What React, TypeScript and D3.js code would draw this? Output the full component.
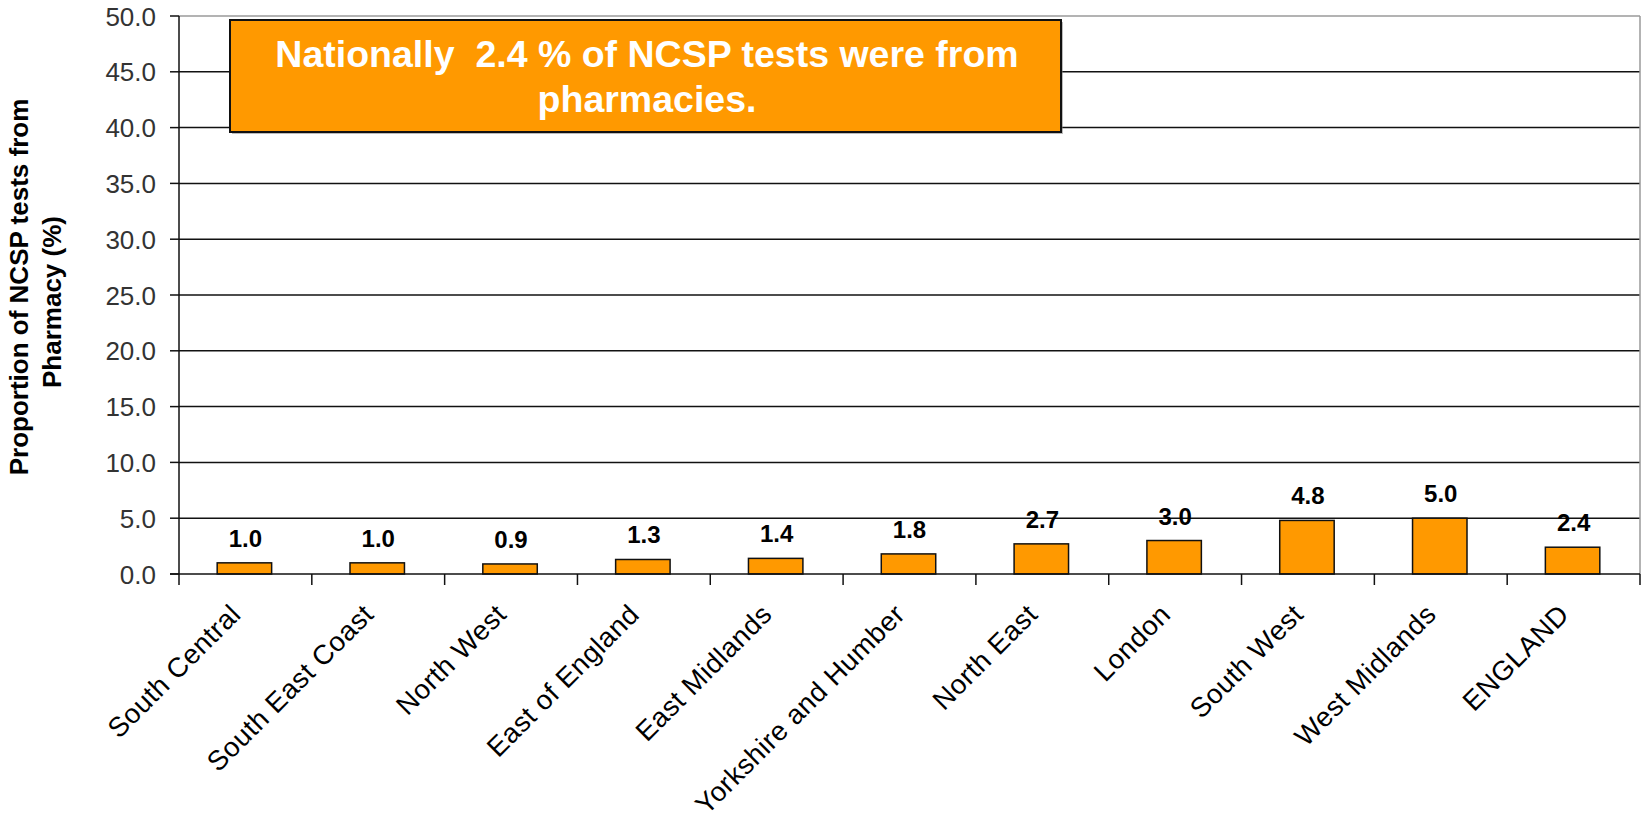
import React from "react";
import * as d3 from "d3";

const categories = [
  "South Central",
  "South East Coast",
  "North West",
  "East of England",
  "East Midlands",
  "Yorkshire and Humber",
  "North East",
  "London",
  "South West",
  "West Midlands",
  "ENGLAND",
];
const values = [1.0, 1.0, 0.9, 1.3, 1.4, 1.8, 2.7, 3.0, 4.8, 5.0, 2.4];
const yTicks = [0, 5, 10, 15, 20, 25, 30, 35, 40, 45, 50];
const yTitleLines = ["Proportion of NCSP tests from", "Pharmacy (%)"];
const noteLines = ["Nationally  2.4 % of NCSP tests were from", "pharmacies."];

const W = 1643;
const H = 826;
const FONT = "'Liberation Sans', Arial, Helvetica, sans-serif";
const ORANGE = "#FF9900";

export default function App() {
  const left = 179;
  const right = 1640;
  const top = 16;
  const bottom = 574;

  const xCat = d3.scaleBand<string>().domain(categories).range([left, right]).padding(0);
  const y = d3.scaleLinear().domain([0, 50]).range([bottom, top]);
  const fmt = d3.format(".1f");
  const barW = xCat.bandwidth() * 0.41;
  const boundaries = d3.range(categories.length + 1).map((i) => left + i * xCat.step());

  return (
    <div style={{ position: "absolute", left: 0, top: 0 }}>
      <svg width={W} height={H} viewBox={`0 0 ${W} ${H}`} style={{ display: "block", background: "#fff" }}>
        {/* gridlines */}
        {yTicks
          .filter((t) => t > 0 && t < 50)
          .map((t) => (
            <line key={"g" + t} x1={left} x2={right} y1={y(t)} y2={y(t)} stroke="#111" strokeWidth={1.5} />
          ))}
        {/* plot border top/right */}
        <line x1={left} x2={right} y1={y(50)} y2={y(50)} stroke="#9a9a9a" strokeWidth={1.5} />
        <line x1={right} x2={right} y1={y(50)} y2={bottom} stroke="#9a9a9a" strokeWidth={1.5} />

        {/* bars */}
        {values.map((v, i) => {
          const cx = (xCat(categories[i]) as number) + xCat.bandwidth() / 2 - 1;
          return (
            <rect
              key={"b" + i}
              x={cx - barW / 2}
              y={y(v)}
              width={barW}
              height={bottom - y(v)}
              fill={ORANGE}
              stroke="#111"
              strokeWidth={1.5}
            />
          );
        })}

        {/* value labels */}
        {values.map((v, i) => {
          const cx = (xCat(categories[i]) as number) + xCat.bandwidth() / 2;
          return (
            <text
              key={"v" + i}
              x={cx}
              y={y(v) - 16}
              textAnchor="middle"
              fontFamily={FONT}
              fontWeight="bold"
              fontSize={24}
              fill="#000"
            >
              {fmt(v)}
            </text>
          );
        })}

        {/* axes */}
        <line x1={left} x2={left} y1={y(50)} y2={bottom} stroke="#111" strokeWidth={1.5} />
        <line x1={left - 9} x2={right} y1={bottom} y2={bottom} stroke="#111" strokeWidth={1.5} />
        {yTicks.map((t) => (
          <g key={"yt" + t}>
            <line x1={left - 9} x2={left} y1={y(t)} y2={y(t)} stroke="#111" strokeWidth={1.5} />
            <text
              x={156}
              y={y(t) + 9.5}
              textAnchor="end"
              fontFamily={FONT}
              fontSize={26}
              fill="#333"
            >
              {fmt(t)}
            </text>
          </g>
        ))}
        {boundaries.map((bx, i) => (
          <line key={"xt" + i} x1={bx} x2={bx} y1={bottom} y2={bottom + 11} stroke="#111" strokeWidth={1.5} />
        ))}

        {/* category labels */}
        {categories.map((c) => {
          const cx = (xCat(c) as number) + xCat.bandwidth() / 2 - 3;
          const cy = 616;
          return (
            <text
              key={"c" + c}
              transform={`translate(${cx},${cy}) rotate(-45)`}
              textAnchor="end"
              fontFamily={FONT}
              fontSize={27.5}
              letterSpacing={0.5}
              fill="#000"
            >
              {c}
            </text>
          );
        })}

        {/* y-axis title */}
        <g transform={`translate(0,287) rotate(-90)`}>
          {yTitleLines.map((l, i) => (
            <text
              key={"yl" + i}
              x={i === 0 ? 0 : -15}
              y={28 + i * 33}
              textAnchor="middle"
              fontFamily={FONT}
              fontWeight="bold"
              fontSize={26}
              fill="#000"
            >
              {l}
            </text>
          ))}
        </g>

        {/* annotation */}
        <rect x={232} y={22} width={831} height={112} fill="#777" opacity={0.5} />
        <rect x={230} y={20} width={831} height={112} fill={ORANGE} stroke="#111" strokeWidth={2} />
        {noteLines.map((l, i) => (
          <text
            key={"n" + i}
            x={647}
            y={67 + i * 45}
            textAnchor="middle"
            fontFamily={FONT}
            fontWeight="bold"
            fontSize={37.5}
            fill="#fff"
            style={{ whiteSpace: "pre" }}
          >
            {l}
          </text>
        ))}
      </svg>
    </div>
  );
}
